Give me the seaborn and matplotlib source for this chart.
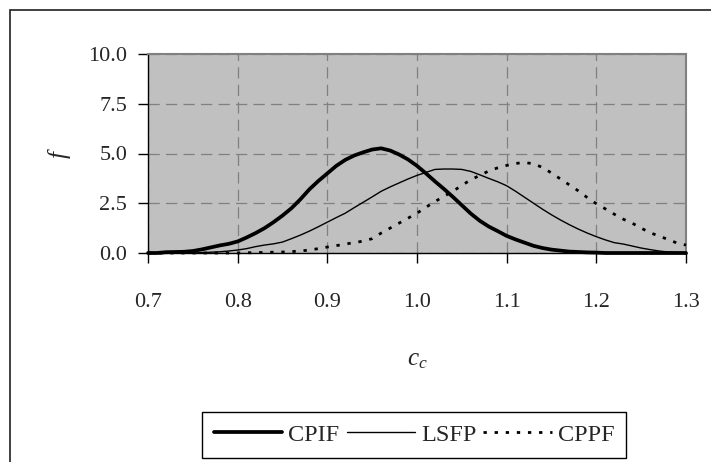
import matplotlib
matplotlib.use("Agg")
import matplotlib.pyplot as plt
from matplotlib.patches import Rectangle
from matplotlib.ticker import FormatStrFormatter
import seaborn as sns
import pandas as pd

# data
cc_values = [0.70, 0.71, 0.72, 0.73, 0.74, 0.75, 0.76, 0.77, 0.78, 0.79,
             0.80, 0.81, 0.82, 0.83, 0.84, 0.85, 0.86, 0.87, 0.88, 0.89,
             0.90, 0.91, 0.92, 0.93, 0.94, 0.95, 0.96, 0.97, 0.98, 0.99,
             1.00, 1.01, 1.02, 1.03, 1.04, 1.05, 1.06, 1.07, 1.08, 1.09,
             1.10, 1.11, 1.12, 1.13, 1.14, 1.15, 1.16, 1.17, 1.18, 1.19,
             1.20, 1.21, 1.22, 1.23, 1.24, 1.25, 1.26, 1.27, 1.28, 1.29, 1.30]

cpif = [0.00, 0.00, 0.04, 0.05, 0.06, 0.10, 0.18, 0.28, 0.38, 0.46,
        0.58, 0.78, 1.00, 1.25, 1.55, 1.88, 2.25, 2.70, 3.20, 3.62,
        4.00, 4.38, 4.68, 4.90, 5.06, 5.20, 5.26, 5.15, 4.95, 4.70,
        4.38, 4.00, 3.60, 3.22, 2.82, 2.40, 1.98, 1.62, 1.33, 1.10,
        0.86, 0.68, 0.52, 0.36, 0.25, 0.17, 0.12, 0.07, 0.05, 0.03,
        0.02, 0.00, 0.00, 0.00, 0.00, 0.00, 0.00, 0.00, 0.00, 0.00, 0.00]

lsfp = [0.00, 0.00, 0.00, 0.00, 0.00, 0.00, 0.02, 0.04, 0.06, 0.10,
        0.15, 0.22, 0.32, 0.40, 0.46, 0.55, 0.72, 0.90, 1.10, 1.32,
        1.55, 1.78, 2.00, 2.28, 2.55, 2.82, 3.10, 3.32, 3.52, 3.72,
        3.90, 4.05, 4.20, 4.22, 4.22, 4.20, 4.10, 3.93, 3.75, 3.58,
        3.38, 3.10, 2.80, 2.50, 2.20, 1.92, 1.66, 1.42, 1.20, 1.00,
        0.82, 0.66, 0.52, 0.45, 0.35, 0.25, 0.17, 0.10, 0.05, 0.03, 0.02]

cppf = [0.00, 0.00, 0.00, 0.00, 0.00, 0.00, 0.00, 0.00, 0.00, 0.00,
        0.00, 0.01, 0.02, 0.03, 0.04, 0.05, 0.07, 0.10, 0.15, 0.22,
        0.30, 0.37, 0.45, 0.52, 0.60, 0.72, 1.00, 1.25, 1.50, 1.75,
        2.00, 2.30, 2.58, 2.85, 3.10, 3.40, 3.68, 3.90, 4.12, 4.28,
        4.40, 4.50, 4.55, 4.48, 4.30, 4.02, 3.72, 3.42, 3.12, 2.78,
        2.48, 2.22, 1.95, 1.70, 1.50, 1.25, 1.02, 0.85, 0.68, 0.50, 0.40]

series_names = ["CPIF", "LSFP", "CPPF"]
x_ticks = [0.7, 0.8, 0.9, 1.0, 1.1, 1.2, 1.3]
y_ticks = [0.0, 2.5, 5.0, 7.5, 10.0]

df = pd.DataFrame({"cc": cc_values, "CPIF": cpif, "LSFP": lsfp, "CPPF": cppf})

# Style
sns.set_style("ticks", {"axes.facecolor": "#C0C0C0"})
plt.rcParams['font.family'] = ['Liberation Serif', 'DejaVu Serif']
plt.rcParams['mathtext.fontset'] = 'custom'
plt.rcParams['mathtext.it'] = 'Liberation Serif:italic'
plt.rcParams['mathtext.rm'] = 'Liberation Serif'

fig, ax = plt.subplots(figsize=(7.11, 4.62), dpi=100)
fig.subplots_adjust(left=148/711, right=686/711, bottom=1-253/462, top=1-54/462)

line_styles = {
    "CPIF": dict(lw=2.7, linestyle="-"),
    "LSFP": dict(lw=1.0, linestyle="-"),
    "CPPF": dict(lw=2.0, linestyle=(0, (1.2, 2.8))),
}
for name in series_names:
    sns.lineplot(data=df, x="cc", y=name, ax=ax, color="black", label=name,
                 clip_on=False, zorder=5, **line_styles[name])

handles, labels = ax.get_legend_handles_labels()
if ax.get_legend() is not None:
    ax.get_legend().remove()

# axes
ax.set_xlim(0.7, 1.3)
ax.set_ylim(0, 10)
ax.set_xticks(x_ticks)
ax.set_yticks(y_ticks)
ax.xaxis.set_major_formatter(FormatStrFormatter('%.1f'))
ax.yaxis.set_major_formatter(FormatStrFormatter('%.1f'))
ax.tick_params(axis='both', labelsize=16, length=7, width=1, color='black')
ax.tick_params(axis='y', pad=8)
ax.tick_params(axis='x', pad=22)

ax.grid(True, color='#808080', linestyle=(0, (9, 5)), linewidth=0.9)
for s in ['left', 'bottom']:
    ax.spines[s].set_color('black')
    ax.spines[s].set_linewidth(1.0)
for s in ['top', 'right']:
    ax.spines[s].set_visible(True)
    ax.spines[s].set_color('#808080')
    ax.spines[s].set_linewidth(1.5)

ax.set_xlabel(r'$c_c$', fontsize=18)
ax.set_ylabel(r'$f$', fontsize=18)
ax.xaxis.set_label_coords(0.5, -0.48)
ax.yaxis.set_label_coords(-0.14, 0.5)

# legend
fig.legend(handles, labels, loc='lower left',
           bbox_to_anchor=(202/711, 4/462),
           ncol=3, fontsize=17.5, handlelength=2.8, handletextpad=0.25,
           columnspacing=0.3, borderpad=0.5, borderaxespad=0,
           frameon=True, fancybox=False, edgecolor='black',
           facecolor='white', framealpha=1)

# outer chart frame
fig.patches.append(Rectangle((9.5/711, -0.1), 1.2, 1.1 - 9.5/462,
                             transform=fig.transFigure, fill=False,
                             lw=1.2, ec='#202020'))

fig.savefig("out.png", dpi=100)
